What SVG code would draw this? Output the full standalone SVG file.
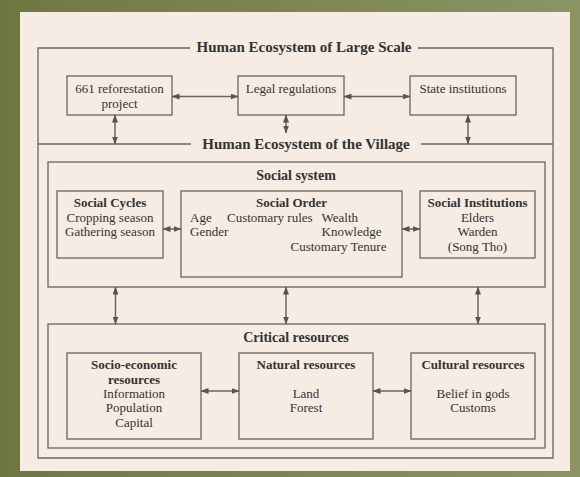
<svg xmlns="http://www.w3.org/2000/svg" width="580" height="477" viewBox="0 0 580 477">
<defs>
<linearGradient id="bg" x1="0" y1="0" x2="1" y2="0">
<stop offset="0" stop-color="#6f7741"/>
<stop offset="1" stop-color="#8b9465"/>
</linearGradient>
<marker id="ah" viewBox="0 0 8 6" refX="7.5" refY="3" markerWidth="8" markerHeight="6" markerUnits="userSpaceOnUse" orient="auto-start-reverse">
<path d="M0,0 L8,3 L0,6 z" fill="#555"/>
</marker>
<style>
.frame{fill:none;stroke:#666;stroke-width:1.3}
.box{fill:none;stroke:#666;stroke-width:1.3}
.con{fill:none;stroke:#666;stroke-width:1.5;marker-start:url(#ah);marker-end:url(#ah)}
text{font-family:"Liberation Serif","Times New Roman",serif;fill:#333;font-size:13px}
.c{text-anchor:middle}
.b{font-weight:bold}
.t1{font-size:15px;font-weight:bold;text-anchor:middle}
.t2{font-size:14px;font-weight:bold;text-anchor:middle}
</style>
</defs>
<rect x="0" y="0" width="580" height="477" fill="url(#bg)"/>
<rect x="20" y="12" width="550" height="459" fill="#f6ece3"/>

<g id="large-scale">
<path class="frame" d="M190,48 H38 V458 H553 V48 H418"/>
<text class="t1" x="304" y="52">Human Ecosystem of Large Scale</text>
</g>
<g id="village">
<path class="frame" d="M38,144 H191 M421,144 H553"/>
<text class="t1" x="306" y="149">Human Ecosystem of the Village</text>
</g>

<g id="n661">
<rect class="box" x="67" y="76" width="105" height="39"/>
<text class="c" x="119.5" y="93">661 reforestation</text>
<text class="c" x="119.5" y="108">project</text>
</g>
<g id="legal">
<rect class="box" x="238" y="76" width="106" height="39"/>
<text class="c" x="291" y="93">Legal regulations</text>
</g>
<g id="state">
<rect class="box" x="410" y="76" width="106" height="39"/>
<text class="c" x="463" y="93">State institutions</text>
</g>

<g id="social-system">
<rect class="box" x="48" y="162" width="497" height="125"/>
<text class="t2" x="296" y="180">Social system</text>
</g>
<g id="social-cycles">
<rect class="box" x="57" y="191" width="106" height="67"/>
<text class="c b" x="110" y="207">Social Cycles</text>
<text class="c" x="110" y="221.5">Cropping season</text>
<text class="c" x="110" y="236">Gathering season</text>
</g>
<g id="social-order">
<rect class="box" x="181" y="191" width="221" height="86"/>
<text class="c b" x="291.5" y="207">Social Order</text>
<text x="190" y="221.5">Age</text>
<text x="227" y="221.5">Customary rules</text>
<text x="321.5" y="221.5">Wealth</text>
<text x="190" y="236">Gender</text>
<text x="321.5" y="236">Knowledge</text>
<text x="290.5" y="250.5">Customary Tenure</text>
</g>
<g id="social-institutions">
<rect class="box" x="420" y="191" width="115" height="67"/>
<text class="c b" x="477.5" y="207">Social Institutions</text>
<text class="c" x="477.5" y="221.5">Elders</text>
<text class="c" x="477.5" y="236">Warden</text>
<text class="c" x="477.5" y="250.5">(Song Tho)</text>
</g>

<g id="critical-resources">
<rect class="box" x="48" y="324" width="497" height="124"/>
<text class="t2" x="296" y="342">Critical resources</text>
</g>
<g id="socio-economic">
<rect class="box" x="67" y="353" width="134" height="86"/>
<text class="c b" x="134" y="369">Socio-economic</text>
<text class="c b" x="134" y="383.5">resources</text>
<text class="c" x="134" y="398">Information</text>
<text class="c" x="134" y="412">Population</text>
<text class="c" x="134" y="426.5">Capital</text>
</g>
<g id="natural">
<rect class="box" x="239" y="353" width="134" height="86"/>
<text class="c b" x="306" y="369">Natural resources</text>
<text class="c" x="306" y="398">Land</text>
<text class="c" x="306" y="412">Forest</text>
</g>
<g id="cultural">
<rect class="box" x="411" y="353" width="124" height="86"/>
<text class="c b" x="473" y="369">Cultural resources</text>
<text class="c" x="473" y="398">Belief in gods</text>
<text class="c" x="473" y="412">Customs</text>
</g>

<g id="connectors">
<line class="con" x1="172" y1="96.5" x2="238" y2="96.5"/>
<line class="con" x1="344" y1="96.5" x2="410" y2="96.5"/>
<line class="con" x1="115" y1="115" x2="115" y2="144"/>
<line class="con" x1="286" y1="115" x2="286" y2="133"/>
<line class="con" x1="468" y1="115" x2="468" y2="144"/>
<line class="con" x1="163" y1="229" x2="181" y2="229"/>
<line class="con" x1="402" y1="229" x2="420" y2="229"/>
<line class="con" x1="115.5" y1="287" x2="115.5" y2="324"/>
<line class="con" x1="286" y1="287" x2="286" y2="324"/>
<line class="con" x1="478" y1="287" x2="478" y2="324"/>
<line class="con" x1="201" y1="391" x2="239" y2="391"/>
<line class="con" x1="373" y1="391" x2="411" y2="391"/>
</g>
</svg>
